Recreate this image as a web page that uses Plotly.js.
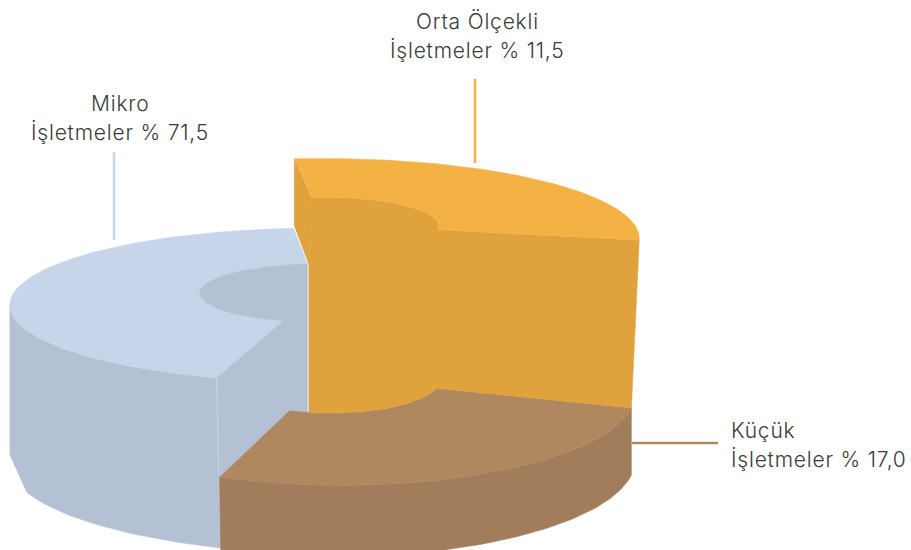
<!DOCTYPE html>
<html><head><meta charset="utf-8">
<script src="https://cdn.plot.ly/plotly-3.0.1.min.js"></script>
<style>html,body{margin:0;padding:0;background:#fff}#c{width:911px;height:550px}
.annotation-text{letter-spacing:0.8px}</style>
</head><body><div id="c"></div>
<script>
// Data
const categories = ['Mikro', 'Küçük', 'Orta Ölçekli'];
const shares = ['71,5', '17,0', '11,5'];
const labelWord = 'İşletmeler %';
// Drawn wedge angles and block heights as they appear in the picture (degrees / px)
const wedgeStart = [106, 19.2, 263.5];
const wedgeSweep = [158.5, 90.9, 108.1];
const blockHeight = [170, 67, 168];
const topColor = ['#C6D5E9', '#B08860', '#F5B244'];
const sideColor = ['#B4C1D5', '#A27D5B', '#DFA23C'];

// Projection of each block's top plane
const view = [
  {cx: 318, cy: 291, R: 303, q: 0.246, p: 0.183, hole: 0.39, holeDx: 0},
  {cx: 340, cy: 377, R: 290, q: 0.305, p: 0.183, hole: 0.38, holeDx: -10},
  {cx: 324, cy: 224, R: 310, q: 0.25, p: 0.183, hole: 0.37, holeDx: 0}
];
const rad = d => d * Math.PI / 180;
function pt(i, deg, r) {
  const v = view[i], u = Math.cos(rad(deg)) * r, w = Math.sin(rad(deg)) * r;
  const s = 1 / (1 - v.p * w);
  return [v.cx + (r < 1 ? v.holeDx : 0) + v.R * u * s, v.cy + v.R * v.q * w * s];
}
function arc(i, r, from, to) {
  const n = 80, out = [];
  for (let k = 0; k <= n; k++) out.push(pt(i, from + (to - from) * k / n, r));
  return out;
}
const shift = (pts, dx, dy) => pts.map(a => [a[0] + dx, a[1] + dy]);
const traces = [];
function poly(pts, color) {
  const c = pts.concat([pts[0]]);
  traces.push({type: 'scatter', mode: 'lines', x: c.map(a => a[0]), y: c.map(a => a[1]),
    fill: 'toself', fillcolor: color, line: {color: color, width: 0.5}, hoverinfo: 'skip', showlegend: false});
}
function leader(xs, ys, color, w) {
  traces.push({type: 'scatter', mode: 'lines', x: xs, y: ys, line: {color: color, width: w}, hoverinfo: 'skip', showlegend: false});
}
const end = i => wedgeStart[i] + wedgeSweep[i];

// Micro block
{
  const i = 0, h = blockHeight[0], o = arc(i, 1, wedgeStart[i], end(i)), n = arc(i, view[i].hole, wedgeStart[i], end(i));
  // the side wall is seen only as far as the leftmost point of the rim
  const whole = arc(i, 1, wedgeStart[i], end(i));
  let far = 0;
  whole.forEach((a, k) => { if (a[0] < whole[far][0]) far = k; });
  const front = whole.slice(0, far + 1);
  const left = front[far];
  const bottom = front.map((a, k) => [a[0] + 3 * (1 - k / far), a[1] + h * (1 - 0.06 * k / far)])
    .filter(a => a[0] >= left[0] + 17);
  const frontB = bottom.concat([[left[0], left[1] + h * 0.88]]);
  poly(front.concat(frontB.slice().reverse()), sideColor[i]);
  poly(o.concat(n.slice().reverse()), topColor[i]);
  poly(n.concat(shift(n, 0, h).reverse()), sideColor[i]);
  poly([o[0], n[0], [n[0][0] + 3, n[0][1] + h], frontB[0]], sideColor[i]);
  leader([o[0][0], o[0][0] + 2], [o[0][1], o[0][1] + 96], '#CAD6E6', 1);
}
// Small block
{
  const i = 1, h = blockHeight[1], o = arc(i, 1, wedgeStart[i], end(i)), n = arc(i, view[i].hole, wedgeStart[i], end(i));
  const oB = o.map((a, k) => [a[0] + k / 80, a[1] + h + 6 * k / 80]);
  poly(o.concat(oB.slice().reverse()), sideColor[i]);
  poly(o.concat(n.slice().reverse()), topColor[i]);
}
// Medium block, standing on the small one
{
  const i = 2, o = arc(i, 1, wedgeStart[i], end(i)), n = arc(i, view[i].hole, wedgeStart[i], end(i));
  const lean = -3 / 67;
  const cornerTop = [n[0][0] + lean * blockHeight[1], n[0][1] + blockHeight[1]];
  poly([o[0], n[0], cornerTop, [o[0][0], o[0][1] + blockHeight[1]]], sideColor[i]);
  const base = arc(1, view[1].hole, wedgeStart[1], end(1));
  const baseVisible = base.filter(a => a[0] >= cornerTop[0]);
  const lastBase = baseVisible[baseVisible.length - 1];
  const wall = [o[80]].concat(n.slice().reverse(), [cornerTop], [[cornerTop[0], lastBase[1]]],
    baseVisible.slice().reverse(), [pt(1, wedgeStart[1], 1)]);
  poly(wall, sideColor[i]);
  poly(o.concat(n.slice().reverse()), topColor[i]);
}
leader([114, 114], [152, 240], topColor[0], 2.5);
leader([475, 475], [79, 163], topColor[2], 2.5);
leader([632, 718], [443, 443], topColor[1], 2.5);

const anchorX = [120, 729, 477], anchorY = [103, 430, 21], align = ['center', 'left', 'center'];
const annotations = [];
categories.forEach((c, i) => {
  [c, labelWord + ' ' + shares[i]].forEach((t, j) => annotations.push({
    xref: 'x', yref: 'y', x: anchorX[i], y: anchorY[i] + 29 * j, text: t, showarrow: false,
    xanchor: align[i], yanchor: 'middle', align: align[i],
    font: {family: 'Inter, sans-serif', size: 21, weight: 300, color: '#3a3a3a'}
  }));
});
Plotly.newPlot('c', traces, {
  width: 911, height: 550, margin: {l: 0, r: 0, t: 0, b: 0},
  paper_bgcolor: '#fff', plot_bgcolor: '#fff', showlegend: false,
  xaxis: {range: [0, 911], visible: false, fixedrange: true},
  yaxis: {range: [550, 0], visible: false, fixedrange: true},
  annotations: annotations
}, {displayModeBar: false, staticPlot: true});
</script></body></html>
